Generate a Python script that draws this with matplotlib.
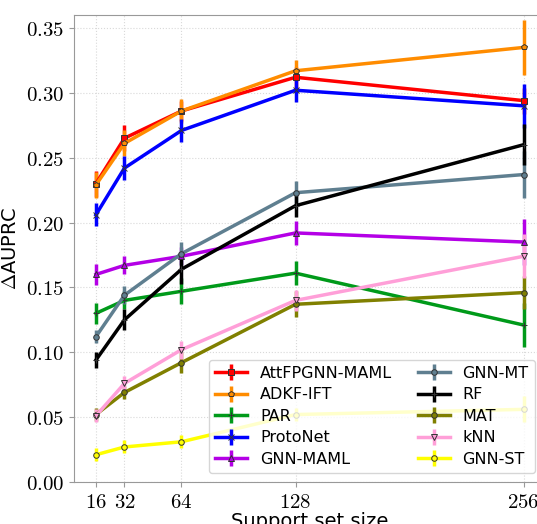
import matplotlib
matplotlib.use('Agg')
import matplotlib.pyplot as plt
from matplotlib.ticker import FuncFormatter

plt.rcParams['mathtext.fontset'] = 'cm'
plt.rcParams['font.family'] = 'DejaVu Sans'

support_sizes = [16, 32, 64, 128, 256]

methods = ['AttFPGNN-MAML', 'ADKF-IFT', 'PAR', 'ProtoNet', 'GNN-MAML',
           'GNN-MT', 'RF', 'MAT', 'kNN', 'GNN-ST']

attfp_mean = [0.230, 0.265, 0.286, 0.312, 0.294]
attfp_err = [0.010, 0.010, 0.008, 0.008, 0.010]
adkf_mean = [0.229, 0.261, 0.286, 0.317, 0.335]
adkf_err = [0.010, 0.010, 0.009, 0.008, 0.021]
par_mean = [0.130, 0.140, 0.147, 0.161, 0.121]
par_err = [0.008, 0.007, 0.010, 0.009, 0.017]
protonet_mean = [0.206, 0.242, 0.271, 0.302, 0.290]
protonet_err = [0.009, 0.009, 0.009, 0.009, 0.017]
gnnmaml_mean = [0.160, 0.167, 0.174, 0.192, 0.185]
gnnmaml_err = [0.008, 0.007, 0.007, 0.009, 0.018]
gnnmt_mean = [0.112, 0.144, 0.176, 0.223, 0.237]
gnnmt_err = [0.005, 0.007, 0.009, 0.009, 0.018]
rf_mean = [0.094, 0.125, 0.164, 0.213, 0.260]
rf_err = [0.006, 0.008, 0.011, 0.009, 0.016]
mat_mean = [0.052, 0.069, 0.092, 0.137, 0.146]
mat_err = [0.005, 0.005, 0.008, 0.010, 0.013]
knn_mean = [0.051, 0.076, 0.102, 0.140, 0.174]
knn_err = [0.005, 0.006, 0.007, 0.008, 0.017]
gnnst_mean = [0.021, 0.027, 0.031, 0.052, 0.056]
gnnst_err = [0.005, 0.005, 0.005, 0.005, 0.010]

means = [attfp_mean, adkf_mean, par_mean, protonet_mean, gnnmaml_mean,
         gnnmt_mean, rf_mean, mat_mean, knn_mean, gnnst_mean]
errs = [attfp_err, adkf_err, par_err, protonet_err, gnnmaml_err,
        gnnmt_err, rf_err, mat_err, knn_err, gnnst_err]

colors = ['#ff0000', '#ff8c00', '#009a1a', '#0000ff', '#b400e6',
          '#5f7f90', '#000000', '#808000', '#ff9fd8', '#ffff00']
markers = ['s', 'p', '+', 'x', '^', 'o', '+', 'o', 'v', 'o']

fig = plt.figure(figsize=(5.37, 5.24), dpi=100)
ax = fig.add_axes([74 / 537, 42 / 524, 471 / 537, 467 / 524])

for name, m, e, c, mk in zip(methods, means, errs, colors, markers):
    ax.errorbar(support_sizes, m, yerr=e, color=c, marker=mk, markersize=4,
                markeredgecolor='#333333', markeredgewidth=0.7,
                linewidth=2.5, elinewidth=2.5, capsize=0, label=name)

ax.set_xlim(3.7, 268)
ax.set_ylim(0, 0.36)
ax.set_xticks(support_sizes)
ax.set_yticks([0.0, 0.05, 0.10, 0.15, 0.20, 0.25, 0.30, 0.35])
ax.xaxis.set_major_formatter(FuncFormatter(lambda v, p: '$%d$' % v))
ax.yaxis.set_major_formatter(FuncFormatter(lambda v, p: '$%.2f$' % v))
ax.tick_params(labelsize=15, color='0.6')
ax.grid(color='0.85', linestyle=':', linewidth=0.8)
ax.set_axisbelow(True)
for s in ax.spines.values():
    s.set_color('0.6')

ax.set_xlabel('Support set size', fontsize=14, labelpad=0)
ax.set_ylabel(r'$\Delta$AUPRC', fontsize=14, labelpad=4)

fig.legend(loc='lower right', bbox_to_anchor=(535 / 537, 51 / 524), ncol=2,
           fontsize=11.5, borderaxespad=0, handlelength=2.0, columnspacing=1.6,
           labelspacing=0.4)

fig.savefig('out.png', dpi=100)
